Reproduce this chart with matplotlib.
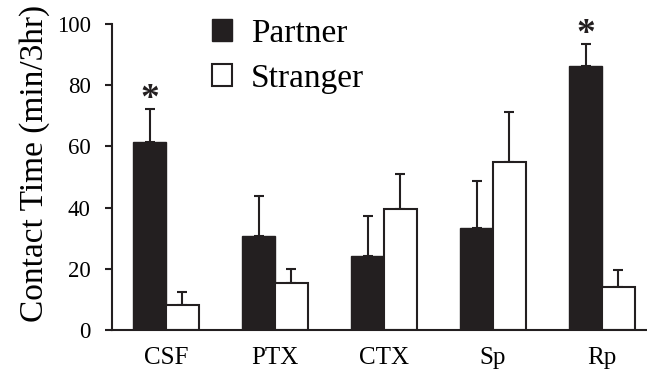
import matplotlib
matplotlib.use('Agg')
import matplotlib.pyplot as plt
import numpy as np
from matplotlib.patches import Patch

categories = ['CSF', 'PTX', 'CTX', 'Sp', 'Rp']
partner = [61.3, 30.8, 24.2, 33.4, 86.3]
partner_err = [10.9, 13.1, 12.9, 15.3, 7.2]
stranger = [8.2, 15.3, 39.5, 54.8, 14.0]
stranger_err = [4.3, 4.6, 11.6, 16.5, 5.7]
significant = [True, False, False, False, True]
yticks = [0, 20, 40, 60, 80, 100]

dark = '#231f20'
plt.rcParams['font.family'] = ['Liberation Serif', 'DejaVu Serif']

fig = plt.figure(figsize=(6.47, 3.69), dpi=100)
ax = fig.add_axes([111.7 / 647, 1 - 330 / 369, 1 - 111.7 / 647, 306 / 369])

x = np.arange(len(categories))
w = 0.3
zeros = np.zeros(len(categories))

ax.bar(x - w / 2, partner, w, color=dark, edgecolor=dark, linewidth=1.0, zorder=2)
ax.bar(x + w / 2, stranger, w, color='white', edgecolor=dark, linewidth=1.5, zorder=2)
ax.errorbar(x - w / 2, partner, yerr=[zeros, partner_err], fmt='none', ecolor=dark,
            elinewidth=1.5, capsize=3.6, capthick=1.5, zorder=1)
ax.errorbar(x + w / 2, stranger, yerr=[zeros, stranger_err], fmt='none', ecolor=dark,
            elinewidth=1.5, capsize=3.6, capthick=1.5, zorder=1)

# significance stars over the partner bars
for i, sig in enumerate(significant):
    if sig:
        ax.text(x[i] - w / 2, partner[i] + partner_err[i] - 2.5, '*', ha='center', va='bottom',
                fontsize=27, fontweight='bold', color=dark, clip_on=False)

ax.set_xlim(-0.498, 4.413)
ax.set_ylim(0, 100)
ax.set_yticks(yticks)
ax.set_xticks(x)
ax.set_xticklabels(categories, fontsize=18)
ax.tick_params(axis='x', length=0, pad=12)
ax.tick_params(axis='y', length=5, width=1.5, color=dark, direction='out', pad=10, labelsize=16.5)

for side in ['top', 'right']:
    ax.spines[side].set_visible(False)
for side in ['left', 'bottom']:
    ax.spines[side].set_linewidth(1.5)
    ax.spines[side].set_color(dark)

ax.set_ylabel('Contact Time (min/3hr)', fontsize=24)
ax.yaxis.set_label_coords(-0.115, 0.544)

handles = [Patch(facecolor=dark, edgecolor=dark, linewidth=1.0),
           Patch(facecolor='white', edgecolor=dark, linewidth=1.5)]
fig.legend(handles, ['Partner', 'Stranger'], loc='upper left',
           bbox_to_anchor=(211.7 / 647, 1 - 18 / 369), bbox_transform=fig.transFigure,
           frameon=False, fontsize=24, handlelength=0.62, handleheight=0.62,
           handletextpad=0.55, labelspacing=0.45, borderpad=0, borderaxespad=0)

fig.savefig('out.png', dpi=100)
